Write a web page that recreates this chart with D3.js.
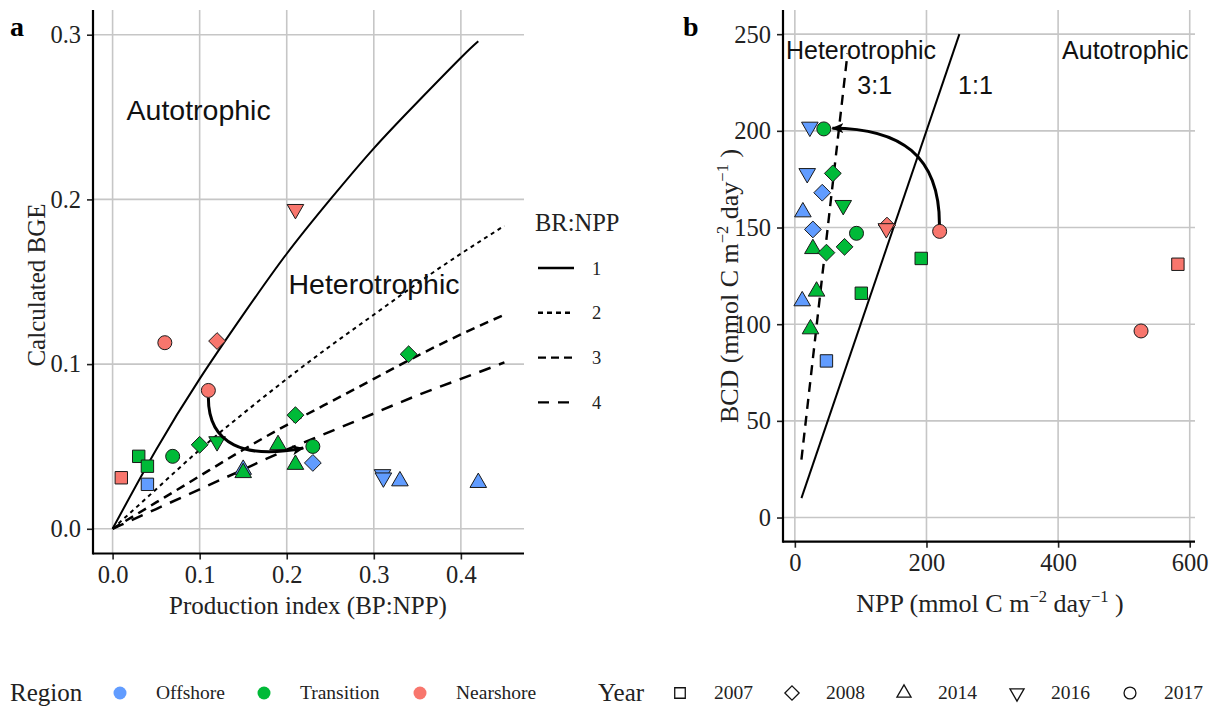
<!DOCTYPE html>
<html>
<head>
<meta charset="utf-8">
<script src="https://cdn.jsdelivr.net/npm/d3@7"></script>
<style>
  body { margin: 0; background: #fff; }
  svg { display: block; }
</style>
</head>
<body>
<svg id="fig" width="1219" height="708"></svg>
<script>
// ---------- legend categories ----------
const regions = ["Offshore", "Transition", "Nearshore"];
const regionColors = ["#619CFF", "#00BA38", "#F8766D"];
const years = ["2007", "2008", "2014", "2016", "2017"];
const yearShapes = ["square", "diamond", "triangle", "triangleDown", "circle"];

// ---------- panel a: production index vs calculated BGE ----------
const aRegion = ["Offshore","Offshore","Offshore","Offshore","Offshore","Offshore","Offshore",
  "Transition","Transition","Transition","Transition","Transition","Transition","Transition","Transition","Transition","Transition","Transition",
  "Nearshore","Nearshore","Nearshore","Nearshore","Nearshore"];
const aYear = ["2007","2008","2014","2014","2014","2016","2016",
  "2007","2007","2008","2008","2008","2014","2014","2014","2016","2017","2017",
  "2007","2008","2016","2017","2017"];
const aPI  = [0.040, 0.230, 0.150, 0.330, 0.420, 0.310, 0.311,
  0.030, 0.040, 0.100, 0.210, 0.340, 0.150, 0.190, 0.210, 0.120, 0.069, 0.230,
  0.010, 0.120, 0.210, 0.060, 0.110];
const aBGE = [0.027, 0.040, 0.036, 0.029, 0.028, 0.033, 0.031,
  0.044, 0.038, 0.051, 0.069, 0.106, 0.034, 0.051, 0.039, 0.053, 0.044, 0.050,
  0.031, 0.114, 0.194, 0.113, 0.084];

// BR:NPP reference curves (production index, BGE)
const brRatios = ["1", "2", "3", "4"];
const curvePI1 = [0, 0.05, 0.10, 0.15, 0.20, 0.25, 0.30, 0.35, 0.40, 0.42];
const curveBGE1 = [0, 0.048, 0.091, 0.130, 0.167, 0.200, 0.231, 0.259, 0.286, 0.296];
const curvePI = [0, 0.05, 0.10, 0.15, 0.20, 0.25, 0.30, 0.35, 0.40, 0.45];
const curveBGE2 = [0, 0.024, 0.048, 0.070, 0.091, 0.111, 0.130, 0.149, 0.167, 0.184];
const curveBGE3 = [0, 0.016, 0.032, 0.048, 0.063, 0.077, 0.091, 0.105, 0.118, 0.130];
const curveBGE4 = [0, 0.012, 0.024, 0.036, 0.048, 0.059, 0.070, 0.081, 0.091, 0.101];

// curved arrow (start, two control points, tip) in data units
const arrowA = [[0.110, 0.0795], [0.110, 0.051], [0.152, 0.042], [0.219, 0.049]];

const aXTicks = [0.0, 0.1, 0.2, 0.3, 0.4];
const aYTicks = [0.0, 0.1, 0.2, 0.3];

// ---------- panel b: NPP vs BCD ----------
const bRegion = ["Offshore","Offshore","Offshore","Offshore","Offshore","Offshore","Offshore",
  "Transition","Transition","Transition","Transition","Transition","Transition","Transition","Transition","Transition","Transition","Transition",
  "Nearshore","Nearshore","Nearshore","Nearshore","Nearshore"];
const bYear = ["2016","2016","2008","2014","2008","2014","2007",
  "2017","2008","2016","2017","2014","2008","2008","2007","2014","2007","2014",
  "2008","2016","2017","2017","2007"];
const bNPP = [22.8, 18.8, 41.6, 12.2, 27.4, 11.2, 48.0,
  44.0, 57.7, 73.5, 93.7, 27.4, 48.0, 75.5, 192.0, 33.0, 101.0, 23.8,
  140.0, 139.0, 220.0, 526.0, 582.0];
const bBCD = [202.0, 178.0, 168.0, 158.0, 149.0, 112.0, 81.0,
  201.0, 178.0, 161.5, 147.0, 139.0, 137.0, 140.0, 134.0, 117.0, 116.0, 97.5,
  151.0, 149.5, 148.0, 96.5, 131.0];

// heterotrophy reference lines (NPP, BCD)
const line11NPP = [10, 250];
const line11BCD = [10, 250];
const line31NPP = [10, 80];
const line31BCD = [30, 240];

const arrowB = [[219.7, 151.6], [219.7, 187.2], [160.0, 201.4], [57.0, 201.4]];

const bXTicks = [0, 200, 400, 600];
const bYTicks = [0, 50, 100, 150, 200, 250];

// ---------- helpers ----------
const SERIF = "'Liberation Serif', 'Times New Roman', serif";
const SANS = "'Liberation Sans', Arial, sans-serif";
const GRID = "#C6C6C6";
const colorOf = d3.scaleOrdinal().domain(regions).range(regionColors);
const shapeOf = d3.scaleOrdinal().domain(years).range(yearShapes);

function shapePath(kind, k) {
  k = k || 1;
  switch (kind) {
    case "square": { const h = 6.2 * k; return `M${-h},${-h}H${h}V${h}H${-h}Z`; }
    case "diamond": { const h = 8.4 * k; return `M0,${-h}L${h},0L0,${h}L${-h},0Z`; }
    case "triangle": { const r = 9.6 * k, w = 8.3 * k; return `M0,${-r}L${w},${r / 2}L${-w},${r / 2}Z`; }
    case "triangleDown": { const r = 9.6 * k, w = 8.3 * k; return `M0,${r}L${w},${-r / 2}L${-w},${-r / 2}Z`; }
    default: { const r = 7 * k; return `M${r},0A${r},${r} 0 1,1 ${-r},0A${r},${r} 0 1,1 ${r},0Z`; }
  }
}

const svg = d3.select("#fig");
svg.append("rect").attr("width", 1219).attr("height", 708).attr("fill", "#fff");

const defs = svg.append("defs");
defs.append("marker")
  .attr("id", "arrowHead")
  .attr("viewBox", "0 0 12 10")
  .attr("refX", 11).attr("refY", 5)
  .attr("markerWidth", 12).attr("markerHeight", 10)
  .attr("markerUnits", "userSpaceOnUse")
  .attr("orient", "auto")
  .append("path")
  .attr("d", "M0,0L12,5L0,10L3,5Z")
  .attr("fill", "#000");

function drawFrame(g, x, y, xTicks, yTicks, xFmt, yFmt) {
  const [x0, x1] = x.range();
  const [y0, y1] = y.range();
  const grid = g.append("g");
  grid.selectAll("line.v").data(xTicks).join("line")
    .attr("x1", d => x(d)).attr("x2", d => x(d)).attr("y1", y1).attr("y2", y0)
    .attr("stroke", GRID).attr("stroke-width", 1.6);
  grid.selectAll("line.h").data(yTicks).join("line")
    .attr("y1", d => y(d)).attr("y2", d => y(d)).attr("x1", x0).attr("x2", x1)
    .attr("stroke", GRID).attr("stroke-width", 1.6);

  const xAxis = g.append("g").attr("transform", `translate(0,${y0})`)
    .call(d3.axisBottom(x).tickValues(xTicks).tickFormat(xFmt).tickSizeOuter(0).tickSize(6).tickPadding(6));
  const yAxis = g.append("g").attr("transform", `translate(${x0},0)`)
    .call(d3.axisLeft(y).tickValues(yTicks).tickFormat(yFmt).tickSizeOuter(0).tickSize(6).tickPadding(6));
  [xAxis, yAxis].forEach(ax => {
    ax.select(".domain").remove();
    ax.selectAll(".tick line").attr("stroke", "#222").attr("stroke-width", 1.6);
    ax.selectAll(".tick text").attr("font-family", SERIF).attr("font-size", 24.5).attr("fill", "#222");
  });
  g.append("line").attr("x1", x0).attr("x2", x1).attr("y1", y0).attr("y2", y0)
    .attr("stroke", "#000").attr("stroke-width", 2.2);
  g.append("line").attr("x1", x0).attr("x2", x0).attr("y1", y1).attr("y2", y0 + 1.1)
    .attr("stroke", "#000").attr("stroke-width", 2.2);
}

function drawPoints(g, x, y, xs, ys, reg, yr) {
  const pts = xs.map((v, i) => ({ x: v, y: ys[i], region: reg[i], year: yr[i] }));
  g.append("g").selectAll("path").data(pts).join("path")
    .attr("transform", d => `translate(${x(d.x)},${y(d.y)})`)
    .attr("d", d => shapePath(shapeOf(d.year)))
    .attr("fill", d => colorOf(d.region))
    .attr("stroke", "#1a1a1a").attr("stroke-width", 1);
}

function drawArrow(g, x, y, pts) {
  const p = pts.map(d => [x(d[0]), y(d[1])]);
  const path = d3.path();
  path.moveTo(p[0][0], p[0][1]);
  path.bezierCurveTo(p[1][0], p[1][1], p[2][0], p[2][1], p[3][0], p[3][1]);
  g.append("path").attr("d", path.toString())
    .attr("fill", "none").attr("stroke", "#000").attr("stroke-width", 3)
    .attr("marker-end", "url(#arrowHead)");
}

// ---------- panel a ----------
const xa = d3.scaleLinear().domain([-0.0225, 0.4725]).range([93, 524]);
const ya = d3.scaleLinear().domain([-0.015, 0.315]).range([553.5, 10]);
const ga = svg.append("g");
drawFrame(ga, xa, ya, aXTicks, aYTicks, d3.format(".1f"), d3.format(".1f"));

const curveLine = d3.line().x(d => xa(d[0])).y(d => ya(d[1])).curve(d3.curveNatural);
const curves = [
  { pi: curvePI1, bge: curveBGE1, dash: null, w: 2 },
  { pi: curvePI, bge: curveBGE2, dash: "4,4", w: 2 },
  { pi: curvePI, bge: curveBGE3, dash: "9,6", w: 2.5 },
  { pi: curvePI, bge: curveBGE4, dash: "12,9", w: 2.5 }
];
curves.forEach(c => {
  ga.append("path").attr("d", curveLine(c.pi.map((v, i) => [v, c.bge[i]])))
    .attr("fill", "none").attr("stroke", "#000").attr("stroke-width", c.w)
    .attr("stroke-dasharray", c.dash);
});

ga.append("text").attr("x", xa(0.016)).attr("y", ya(0.248)).text("Autotrophic")
  .attr("font-family", SANS).attr("font-size", 28.5).attr("fill", "#111");
ga.append("text").attr("x", xa(0.202)).attr("y", ya(0.1425)).text("Heterotrophic")
  .attr("font-family", SANS).attr("font-size", 28.5).attr("fill", "#111");

drawPoints(ga, xa, ya, aPI, aBGE, aRegion, aYear);
drawArrow(ga, xa, ya, arrowA);

// axis titles
svg.append("text").attr("x", 308).attr("y", 614).attr("text-anchor", "middle")
  .attr("font-family", SERIF).attr("font-size", 25).attr("fill", "#222")
  .text("Production index (BP:NPP)");
svg.append("text").attr("transform", "translate(45,285) rotate(-90)").attr("text-anchor", "middle")
  .attr("font-family", SERIF).attr("font-size", 25).attr("fill", "#222")
  .text("Calculated BGE");
svg.append("text").attr("x", 10).attr("y", 36).attr("font-family", SERIF)
  .attr("font-weight", "bold").attr("font-size", 28).text("a");

// BR:NPP legend
const lg = svg.append("g");
lg.append("text").attr("x", 535).attr("y", 231).attr("font-family", SERIF)
  .attr("font-size", 24.5).attr("fill", "#222").text("BR:NPP");
brRatios.forEach((r, i) => {
  const yy = 268 + i * 44.8;
  lg.append("line").attr("x1", 538).attr("x2", 574).attr("y1", yy).attr("y2", yy)
    .attr("stroke", "#000").attr("stroke-width", 2.4)
    .attr("stroke-dasharray", [null, "5,4", "8,5", "11,9"][i]);
  lg.append("text").attr("x", 592).attr("y", yy + 6.5).attr("font-family", SERIF)
    .attr("font-size", 18.5).attr("fill", "#222").text(r);
});

// ---------- panel b ----------
const xb = d3.scaleLinear().domain([-18, 608]).range([783, 1195]);
const yb = d3.scaleLinear().domain([-12.5, 262.5]).range([541.7, 10]);
const gb = svg.append("g");
drawFrame(gb, xb, yb, bXTicks, bYTicks, d3.format("d"), d3.format("d"));

const bLine = d3.line().x(d => xb(d[0])).y(d => yb(d[1]));
gb.append("path").attr("d", bLine(line11NPP.map((v, i) => [v, line11BCD[i]])))
  .attr("fill", "none").attr("stroke", "#000").attr("stroke-width", 2);
gb.append("path").attr("d", bLine(line31NPP.map((v, i) => [v, line31BCD[i]])))
  .attr("fill", "none").attr("stroke", "#000").attr("stroke-width", 2.4)
  .attr("stroke-dasharray", "10,7");

gb.append("text").attr("x", xb(-13.5)).attr("y", yb(237)).text("Heterotrophic")
  .attr("font-family", SANS).attr("font-size", 25).attr("fill", "#111");
gb.append("text").attr("x", xb(406)).attr("y", yb(237)).text("Autotrophic")
  .attr("font-family", SANS).attr("font-size", 25).attr("fill", "#111");
gb.append("text").attr("x", xb(95)).attr("y", yb(219)).text("3:1")
  .attr("font-family", SANS).attr("font-size", 25).attr("fill", "#111");
gb.append("text").attr("x", xb(248)).attr("y", yb(219)).text("1:1")
  .attr("font-family", SANS).attr("font-size", 25).attr("fill", "#111");

drawPoints(gb, xb, yb, bNPP, bBCD, bRegion, bYear);
drawArrow(gb, xb, yb, arrowB);

// unit titles with superscripts
function unitText(t, lead) {
  t.append("tspan").text(lead + " (mmol C m");
  t.append("tspan").attr("dy", -10).attr("font-size", 16.5).text("\u22122");
  t.append("tspan").attr("dy", 10).text(" day");
  t.append("tspan").attr("dy", -10).attr("font-size", 16.5).text("\u22121");
  t.append("tspan").attr("dy", 10).text(" )");
}
const bxTitle = svg.append("text").attr("x", 990).attr("y", 612).attr("text-anchor", "middle")
  .attr("font-family", SERIF).attr("font-size", 26).attr("fill", "#222");
unitText(bxTitle, "NPP");
const byTitle = svg.append("text").attr("transform", "translate(738,286) rotate(-90)").attr("text-anchor", "middle")
  .attr("font-family", SERIF).attr("font-size", 26).attr("fill", "#222");
unitText(byTitle, "BCD");
svg.append("text").attr("x", 683).attr("y", 36).attr("font-family", SERIF)
  .attr("font-weight", "bold").attr("font-size", 28).text("b");

// ---------- bottom legend ----------
const bl = svg.append("g");
const LY = 693;
bl.append("text").attr("x", 10).attr("y", LY + 8).attr("font-family", SERIF)
  .attr("font-size", 25).attr("fill", "#222").text("Region");
const regX = [120, 264, 420];
regions.forEach((r, i) => {
  bl.append("circle").attr("cx", regX[i]).attr("cy", LY).attr("r", 6.5).attr("fill", regionColors[i]);
  bl.append("text").attr("x", regX[i] + 36).attr("y", LY + 6).attr("font-family", SERIF)
    .attr("font-size", 19.5).attr("fill", "#222").text(r);
});
bl.append("text").attr("x", 598).attr("y", LY + 8).attr("font-family", SERIF)
  .attr("font-size", 25).attr("fill", "#222").text("Year");
const yrX = [680, 792, 904, 1017, 1130];
years.forEach((yv, i) => {
  bl.append("path").attr("transform", `translate(${yrX[i]},${LY})`)
    .attr("d", shapePath(yearShapes[i], 0.85))
    .attr("fill", "none").attr("stroke", "#111").attr("stroke-width", 1.3);
  bl.append("text").attr("x", yrX[i] + 34).attr("y", LY + 6).attr("font-family", SERIF)
    .attr("font-size", 19.5).attr("fill", "#222").text(yv);
});
</script>
</body>
</html>
